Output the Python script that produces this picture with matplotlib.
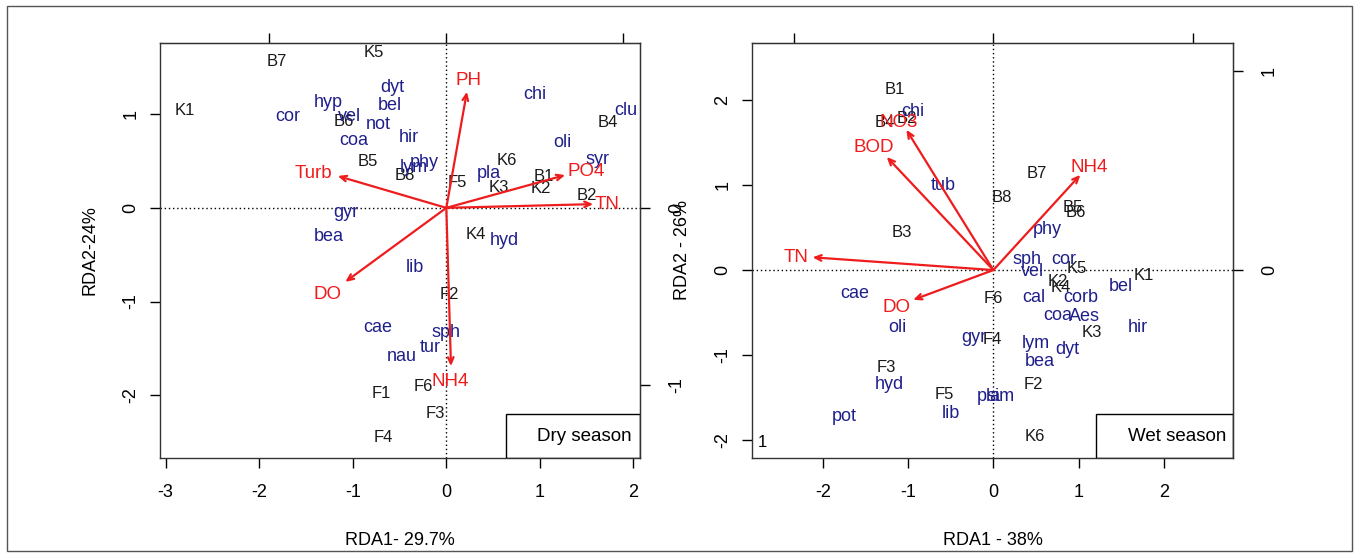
import matplotlib
matplotlib.use("Agg")
import matplotlib.pyplot as plt
from matplotlib.patches import Rectangle

plt.rcParams['font.family'] = ['Liberation Sans', 'DejaVu Sans']

SITE_C = "#1a1a1a"
SPEC_C = "#1f1f8c"
ENV_C = "#ee1c1c"

# ---- dry season ----
dry_sites = ["K1", "B7", "K5", "B6", "B5", "B8", "F5", "K6", "K3", "B1",
             "K2", "B2", "B4", "K4", "F2", "F1", "F6", "F3", "F4"]
dry_site_x = [-2.80, -1.81, -0.78, -1.10, -0.84, -0.44, 0.12, 0.65, 0.56, 1.04,
              1.01, 1.50, 1.73, 0.32, 0.03, -0.69, -0.25, -0.12, -0.67]
dry_site_y = [1.04, 1.56, 1.66, 0.92, 0.50, 0.35, 0.27, 0.51, 0.22, 0.33,
              0.21, 0.13, 0.91, -0.28, -0.92, -1.98, -1.91, -2.20, -2.45]

dry_species = ["cor", "hyp", "vel", "dyt", "bel", "not", "coa", "hir", "phy",
               "lym", "chi", "oli", "clu", "syr", "pla", "gyr", "bea", "hyd",
               "lib", "cae", "sph", "tur", "nau"]
dry_spec_x = [-1.69, -1.26, -1.03, -0.58, -0.60, -0.73, -0.99, -0.40, -0.24,
              -0.35, 0.95, 1.24, 1.92, 1.62, 0.45, -1.07, -1.26, 0.62,
              -0.34, -0.73, 0.0, -0.17, -0.48]
dry_spec_y = [0.98, 1.12, 0.98, 1.28, 1.09, 0.89, 0.72, 0.75, 0.48,
              0.43, 1.21, 0.70, 1.04, 0.52, 0.37, -0.05, -0.31, -0.35,
              -0.64, -1.28, -1.33, -1.49, -1.59]

dry_env = ["PH", "Turb", "PO4", "TN", "DO", "NH4"]
dry_env_x = [0.22, -1.16, 1.27, 1.57, -1.08, 0.05]
dry_env_y = [1.24, 0.34, 0.35, 0.04, -0.79, -1.69]
dry_env_lx = [0.24, -1.42, 1.50, 1.72, -1.27, 0.04]
dry_env_ly = [1.36, 0.37, 0.39, 0.04, -0.93, -1.85]

# ---- wet season ----
wet_sites = ["B1", "B4", "B2", "B3", "B7", "B8", "B5", "B6", "K5", "K1",
             "K2", "K4", "K3", "F6", "F4", "F2", "F3", "F5", "K6"]
wet_site_x = [-1.15, -1.27, -1.01, -1.07, 0.51, 0.10, 0.93, 0.97, 0.98, 1.77,
              0.76, 0.79, 1.16, 0.0, -0.01, 0.47, -1.25, -0.58, 0.49]
wet_site_y = [2.12, 1.74, 1.78, 0.44, 1.14, 0.85, 0.73, 0.68, 0.02, -0.06,
              -0.14, -0.20, -0.74, -0.33, -0.82, -1.35, -1.15, -1.46, -1.96]

wet_species = ["chi", "tub", "phy", "sph", "cor", "vel", "cal", "corb", "coa",
               "Aes", "bel", "hir", "lym", "bea", "dyt", "pla", "sim", "gyr",
               "cae", "oli", "hyd", "pot", "lib"]
wet_spec_x = [-0.95, -0.59, 0.63, 0.40, 0.83, 0.46, 0.47, 1.03, 0.76,
              1.07, 1.50, 1.69, 0.50, 0.54, 0.87, -0.05, 0.09, -0.23,
              -1.62, -1.12, -1.22, -1.75, -0.50]
wet_spec_y = [1.86, 1.00, 0.48, 0.12, 0.12, -0.02, -0.32, -0.32, -0.54,
              -0.55, -0.19, -0.67, -0.86, -1.07, -0.94, -1.49, -1.49, -0.79,
              -0.27, -0.67, -1.34, -1.72, -1.69]

wet_env = ["NO3", "BOD", "NH4", "TN", "DO"]
wet_env_x = [-1.02, -1.25, 1.02, -2.12, -0.94]
wet_env_y = [1.65, 1.33, 1.12, 0.15, -0.35]
wet_env_lx = [-1.11, -1.40, 1.12, -2.31, -1.13]
wet_env_ly = [1.74, 1.44, 1.21, 0.15, -0.44]


def draw_panel(ax, sites, sx, sy, species, px, py, env, ex, ey, lx, ly,
               xlim, ylim, xticks, yticks, scale, top_ticks, right_ticks,
               xlabel, ylabel, season, box_x0):
    ax.set_xlim(*xlim)
    ax.set_ylim(*ylim)
    ax.axhline(0, color="black", ls=(0, (1, 2)), lw=1, zorder=1)
    ax.axvline(0, color="black", ls=(0, (1, 2)), lw=1, zorder=1)

    for name, x, y in zip(sites, sx, sy):
        ax.text(x, y, name, color=SITE_C, fontsize=12, ha="center", va="center")
    for name, x, y in zip(species, px, py):
        ax.text(x, y, name, color=SPEC_C, fontsize=13, ha="center", va="center")
    for name, x, y, tx, ty in zip(env, ex, ey, lx, ly):
        ax.annotate("", xy=(x, y), xytext=(0, 0),
                    arrowprops=dict(arrowstyle="->,head_length=0.45,head_width=0.2",
                                    color=ENV_C, lw=1.6, shrinkA=0, shrinkB=0))
        ax.text(tx, ty, name, color=ENV_C, fontsize=13.5, ha="center", va="center")

    ax.set_xticks(xticks)
    ax.set_yticks(yticks)
    ax.set_xticklabels([str(t) for t in xticks])
    ax.set_yticklabels([str(t) for t in yticks], rotation=90, va="center")
    ax.tick_params(direction="out", length=7, width=1, labelsize=13)
    ax.tick_params(axis="x", pad=12)
    ax.tick_params(axis="y", pad=8)
    ax.set_xlabel(xlabel, fontsize=13, labelpad=22)
    ax.set_ylabel(ylabel, fontsize=13, labelpad=17)
    for sp in ax.spines.values():
        sp.set_linewidth(1)
        sp.set_color("#333333")

    top = ax.secondary_xaxis("top", functions=(lambda v: v / scale, lambda v: v * scale))
    top.set_xticks(top_ticks)
    top.set_xticklabels([""] * len(top_ticks))
    top.tick_params(direction="out", length=7, width=1)
    right = ax.secondary_yaxis("right", functions=(lambda v: v / scale, lambda v: v * scale))
    right.set_yticks(right_ticks)
    right.set_yticklabels([str(t) for t in right_ticks], rotation=90, va="center")
    right.tick_params(direction="out", length=7, width=1, labelsize=13, pad=13)

    ax.add_patch(Rectangle((box_x0, 0.0), 1 - box_x0, 0.106, transform=ax.transAxes,
                           fill=False, ec="black", lw=1, zorder=3))
    ax.text(0.885, 0.053, season, transform=ax.transAxes, fontsize=13.5,
            ha="center", va="center")


fig = plt.figure(figsize=(13.56, 5.56), dpi=100)
ax1 = fig.add_axes([160 / 1356, 1 - 458 / 556, 480 / 1356, 415 / 556])
ax2 = fig.add_axes([752 / 1356, 1 - 458 / 556, 481 / 1356, 415 / 556])

draw_panel(ax1, dry_sites, dry_site_x, dry_site_y, dry_species, dry_spec_x,
           dry_spec_y, dry_env, dry_env_x, dry_env_y, dry_env_lx, dry_env_ly,
           (-3.06, 2.07), (-2.67, 1.76), [-3, -2, -1, 0, 1, 2], [-2, -1, 0, 1],
           1.89, [-1, 0, 1], [-1, 0], "RDA1- 29.7%", "RDA2-24%", "Dry season",
           0.72)

draw_panel(ax2, wet_sites, wet_site_x, wet_site_y, wet_species, wet_spec_x,
           wet_spec_y, wet_env, wet_env_x, wet_env_y, wet_env_lx, wet_env_ly,
           (-2.83, 2.81), (-2.21, 2.67), [-2, -1, 0, 1, 2], [-2, -1, 0, 1, 2],
           2.34, [-1, 0, 1], [0, 1], "RDA1 - 38%", "RDA2 - 26%", "Wet season",
           0.715)
ax2.text(0.012, 0.02, "1", transform=ax2.transAxes, fontsize=12, ha="left",
         va="bottom")

# outer frame
fig.add_artist(Rectangle((7 / 1356, 5 / 556), 1345 / 1356, 545 / 556,
                         transform=fig.transFigure, fill=False, ec="#555555", lw=1))

fig.savefig("out.png", dpi=100)
